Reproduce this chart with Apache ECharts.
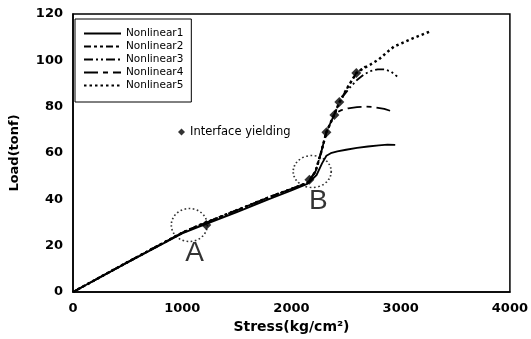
<!DOCTYPE html>
<html>
<head>
<meta charset="utf-8">
<script src="https://cdn.jsdelivr.net/npm/echarts@6/dist/echarts.min.js"></script>
<style>
  html, body { margin: 0; padding: 0; background: #fff; }
  #chart { width: 531px; height: 339px; }
</style>
</head>
<body>
<div id="chart"></div>
<script>
// Load–stress curves, [stress (kg/cm²), load (tonf)]
const nonlinear1 = [[0,0],[500,12.8],[1000,25.3],[1150,28.1],[1500,34.5],[1800,40.2],[2000,43.8],[2150,46.8],[2230,50.5],[2280,55.5],[2320,58.8],[2360,59.9],[2420,60.7],[2500,61.4],[2600,62.2],[2700,62.8],[2800,63.3],[2880,63.6],[2950,63.5]];
const nonlinear2 = [[0,0],[500,12.9],[1000,25.6],[1150,28.7],[1500,35.3],[1800,41],[2000,44.5],[2150,47.2],[2220,52],[2270,60],[2320,69],[2390,76.4],[2440,82],[2510,88],[2594,94.5],[2680,97.5]];
const nonlinear3 = [[0,0],[500,12.9],[1000,25.6],[1150,28.7],[1500,35.3],[1800,41],[2000,44.5],[2150,47.2],[2220,52],[2270,60],[2320,69],[2390,76.4],[2440,82],[2480,85],[2530,88],[2600,91.5],[2660,93.8],[2720,95.3],[2790,96.1],[2850,96.1],[2910,95.2],[2968,93]];
const nonlinear4 = [[0,0],[500,12.9],[1000,25.6],[1150,28.7],[1500,35.3],[1800,41],[2000,44.5],[2150,47.2],[2220,52],[2270,60],[2320,69],[2390,76.4],[2420,77.6],[2457,78.5],[2520,79.3],[2600,79.8],[2680,80],[2760,79.8],[2850,79],[2941,77.7]];
const nonlinear5 = [[0,0],[500,12.9],[1000,25.6],[1150,28.7],[1500,35.3],[1800,41],[2000,44.5],[2150,47.2],[2220,52],[2270,60],[2320,69],[2390,76.4],[2440,82],[2510,88],[2594,94.5],[2650,96.3],[2720,98.1],[2800,100.4],[2870,103.3],[2940,106],[3020,107.6],[3100,109.3],[3180,110.8],[3260,112.3]];
// Points where the interface yields
const yieldPoints = [[1220,28.9],[2164,48.5],[2320,69],[2393,76.4],[2438,82],[2594,94.5]];
// Highlighted regions A and B: centre and label position
const regionCentres = [{ name: 'A', value: [1065, 28.9], size: [36, 33] }, { name: 'B', value: [2190, 52], size: [38, 32] }];
const regionLabels = [{ name: 'A', value: [1114, 16.8] }, { name: 'B', value: [2247, 39.3] }];
// Axis ticks
const stressTicks = { min: 0, max: 4000, interval: 1000 };
const loadTicks = { min: 0, max: 120, interval: 20 };

const FONT = 'DejaVu Sans';
const plainNumber = function (v) { return String(v); };

function curve(name, data, lineType, width) {
  return {
    name: name,
    type: 'line',
    data: data,
    symbol: 'none',
    lineStyle: { color: '#000', width: width, type: lineType },
    itemStyle: { color: '#000' },
    z: 2
  };
}

const chart = echarts.init(document.getElementById('chart'), null, { renderer: 'canvas' });
chart.setOption({
  animation: false,
  backgroundColor: '#fff',
  grid: { left: 73, right: 20, top: 14, bottom: 47, show: true, borderColor: '#000', borderWidth: 1.5, backgroundColor: 'transparent' },
  xAxis: {
    type: 'value',
    min: stressTicks.min, max: stressTicks.max, interval: stressTicks.interval,
    name: 'Stress(kg/cm²)',
    nameLocation: 'middle',
    nameGap: 25,
    nameTextStyle: { fontFamily: FONT, fontWeight: 'bold', fontSize: 14, color: '#000' },
    axisLine: { lineStyle: { color: '#000', width: 1.5 } },
    axisTick: { show: false },
    splitLine: { show: false },
    axisLabel: { fontFamily: FONT, fontWeight: 'bold', fontSize: 13, color: '#000', margin: 10, formatter: plainNumber }
  },
  yAxis: {
    type: 'value',
    min: loadTicks.min, max: loadTicks.max, interval: loadTicks.interval,
    name: 'Load(tonf)',
    nameLocation: 'middle',
    nameGap: 52,
    nameTextStyle: { fontFamily: FONT, fontWeight: 'bold', fontSize: 13, color: '#000' },
    axisLine: { show: true, lineStyle: { color: '#000', width: 1.5 } },
    axisTick: { show: false },
    splitLine: { show: false },
    axisLabel: { fontFamily: FONT, fontWeight: 'bold', fontSize: 13, color: '#000', margin: 10, formatter: plainNumber }
  },
  legend: [
    {
      data: ['Nonlinear1', 'Nonlinear2', 'Nonlinear3', 'Nonlinear4', 'Nonlinear5'],
      orient: 'vertical',
      left: 75, top: 19,
      padding: [9, 8, 11, 8],
      itemWidth: 37, itemHeight: 10, itemGap: 2, itemTextGap: 7,
      itemStyle: { opacity: 0 },
      backgroundColor: '#fff',
      borderColor: '#000', borderWidth: 1,
      textStyle: { fontFamily: FONT, fontSize: 10.5, color: '#000' }
    },
    {
      data: [{ name: 'Interface yielding', icon: 'diamond' }],
      left: 178, top: 126,
      padding: 0,
      itemWidth: 7, itemHeight: 7, itemTextGap: 3,
      textStyle: { fontFamily: FONT, fontSize: 11.5, color: '#000' }
    }
  ],
  series: [
    curve('Nonlinear1', nonlinear1, 'solid', 1.8),
    curve('Nonlinear2', nonlinear2, [7, 3, 3, 3, 3, 3], 1.8),
    curve('Nonlinear3', nonlinear3, [9, 3, 2, 3, 2, 3], 1.8),
    curve('Nonlinear4', nonlinear4, [14, 5, 5, 5], 1.8),
    curve('Nonlinear5', nonlinear5, [2.5, 3], 2.5),
    {
      name: 'Interface yielding',
      type: 'scatter',
      data: yieldPoints,
      symbol: 'diamond',
      symbolSize: [10, 10],
      itemStyle: { color: '#000' },
      z: 4
    },
    {
      name: 'regions',
      type: 'scatter',
      data: regionCentres.map(function (r) { return { name: r.name, value: r.value, symbolSize: r.size }; }),
      symbol: 'circle',
      itemStyle: { color: 'transparent', borderColor: '#000', borderWidth: 1.6, borderType: [1.6, 2.4] },
      silent: true,
      z: 3
    },
    {
      name: 'regionLabels',
      type: 'scatter',
      data: regionLabels,
      symbolSize: 0,
      label: {
        show: true, position: 'inside',
        formatter: function (p) { return p.name; },
        fontFamily: 'Liberation Sans', fontSize: 28, color: '#000'
      },
      silent: true,
      z: 3
    }
  ]
});
</script>
</body>
</html>
